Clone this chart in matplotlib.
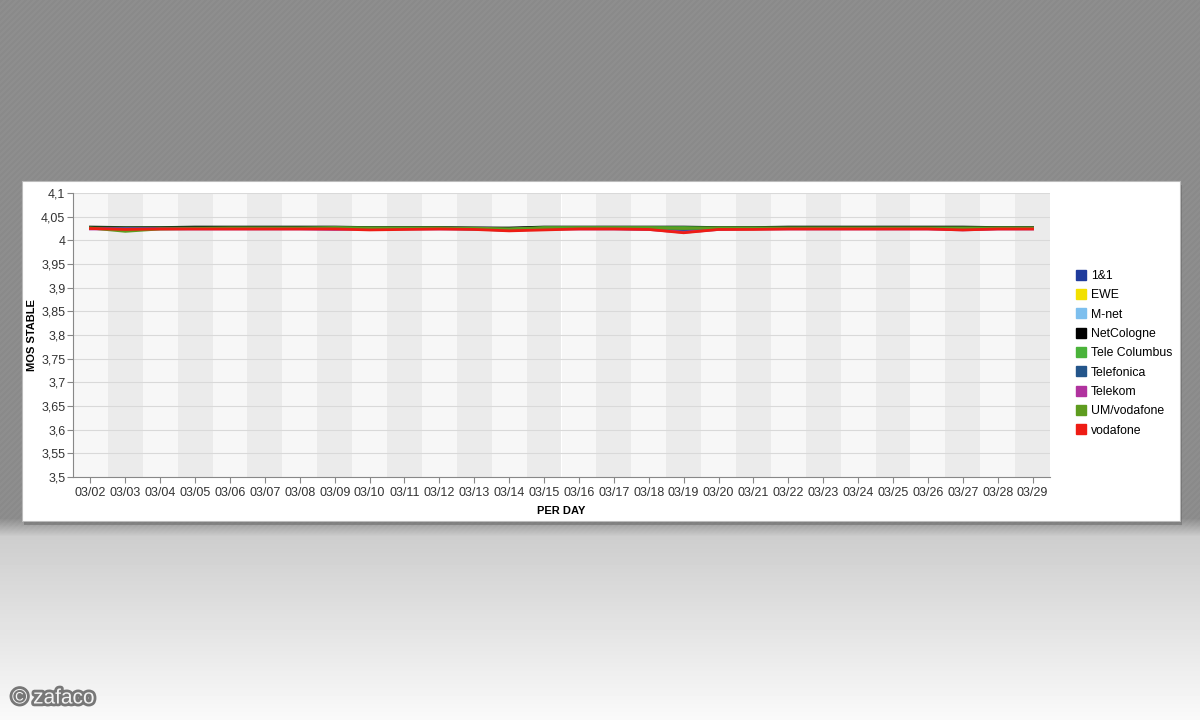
import numpy as np
import matplotlib
matplotlib.use("Agg")
import matplotlib.pyplot as plt
from matplotlib.patches import Rectangle
import matplotlib.patheffects as pe

plt.rcParams['font.family'] = ['Liberation Sans', 'DejaVu Sans']

# data
days = ["03/%02d" % d for d in range(2, 30)]

providers = ["1&1", "EWE", "M-net", "NetCologne", "Tele Columbus",
             "Telefonica", "Telekom", "UM/vodafone", "vodafone"]
colors = ["#1f3b9c", "#f2e000", "#7dbfee", "#000000", "#4ab33a",
          "#24558a", "#b0329e", "#5e9c1f", "#ee1c14"]

mos_1und1 = [4.026, 4.025, 4.026, 4.026, 4.026, 4.026, 4.026, 4.026, 4.026, 4.026,
             4.026, 4.026, 4.025, 4.026, 4.026, 4.026, 4.025, 4.018, 4.025, 4.026,
             4.026, 4.026, 4.026, 4.026, 4.026, 4.026, 4.026, 4.026]
mos_ewe = [4.025, 4.025, 4.025, 4.025, 4.025, 4.025, 4.025, 4.025, 4.025, 4.025,
           4.025, 4.025, 4.024, 4.025, 4.025, 4.025, 4.025, 4.024, 4.025, 4.025,
           4.025, 4.025, 4.025, 4.025, 4.025, 4.025, 4.025, 4.025]
mos_mnet = [4.025, 4.024, 4.025, 4.025, 4.025, 4.025, 4.025, 4.025, 4.025, 4.025,
            4.025, 4.025, 4.023, 4.025, 4.025, 4.025, 4.025, 4.023, 4.025, 4.025,
            4.025, 4.025, 4.025, 4.025, 4.025, 4.025, 4.025, 4.025]
mos_netcologne = [4.028, 4.027, 4.027, 4.028, 4.028, 4.028, 4.028, 4.028, 4.027, 4.027,
                  4.027, 4.026, 4.026, 4.028, 4.028, 4.028, 4.028, 4.028, 4.027, 4.027,
                  4.028, 4.028, 4.028, 4.028, 4.028, 4.028, 4.027, 4.027]
mos_telecolumbus = [4.026, 4.026, 4.026, 4.026, 4.026, 4.026, 4.026, 4.027, 4.026, 4.026,
                    4.026, 4.024, 4.024, 4.027, 4.027, 4.027, 4.027, 4.027, 4.026, 4.026,
                    4.026, 4.026, 4.026, 4.026, 4.026, 4.026, 4.026, 4.026]
mos_telefonica = [4.025, 4.025, 4.025, 4.025, 4.025, 4.025, 4.025, 4.025, 4.025, 4.025,
                  4.025, 4.024, 4.021, 4.024, 4.025, 4.025, 4.024, 4.022, 4.025, 4.025,
                  4.025, 4.025, 4.025, 4.025, 4.025, 4.025, 4.025, 4.025]
mos_telekom = [4.024, 4.024, 4.024, 4.024, 4.024, 4.024, 4.024, 4.023, 4.024, 4.024,
               4.024, 4.024, 4.022, 4.024, 4.024, 4.024, 4.023, 4.017, 4.023, 4.024,
               4.024, 4.024, 4.024, 4.024, 4.024, 4.022, 4.024, 4.024]
mos_umvodafone = [4.026, 4.019, 4.024, 4.025, 4.026, 4.026, 4.026, 4.026, 4.026, 4.026,
                  4.026, 4.026, 4.024, 4.026, 4.026, 4.026, 4.026, 4.025, 4.026, 4.026,
                  4.026, 4.026, 4.026, 4.026, 4.026, 4.026, 4.026, 4.026]
mos_vodafone = [4.025, 4.023, 4.024, 4.024, 4.024, 4.024, 4.024, 4.024, 4.022, 4.023,
                4.024, 4.023, 4.020, 4.022, 4.024, 4.024, 4.023, 4.016, 4.023, 4.023,
                4.024, 4.024, 4.024, 4.024, 4.024, 4.022, 4.024, 4.024]

series = [mos_1und1, mos_ewe, mos_mnet, mos_netcologne, mos_telecolumbus,
          mos_telefonica, mos_telekom, mos_umvodafone, mos_vodafone]

yticks = np.arange(3.5, 4.1001, 0.05)

fig = plt.figure(figsize=(12, 7.2), dpi=100)

#
# background: gray striped top, light gradient bottom
#
H, W = 720, 1200
yy, xx = np.mgrid[0:H, 0:W]
bg = np.full((H, W), 138.0)
bg += 4 * (((xx + yy) // 3) % 2)
t = np.clip((yy - 518) / 18.0, 0, 1)
low = 205 + 45 * np.clip((yy - 535) / 185.0, 0, 1)
bg = bg * (1 - t) + low * t
bgax = fig.add_axes([0, 0, 1, 1], zorder=-10)
bgax.imshow(bg, cmap="gray", vmin=0, vmax=255, aspect="auto",
            extent=[0, 1, 0, 1], origin="upper", interpolation="nearest")
bgax.axis("off")

# white panel with shadow
px0, px1, py0, py1 = 22, 1180, 181, 521
fig.patches.append(Rectangle((px0 / W + 0.002, 1 - (py1 + 4) / H), (px1 - px0) / W,
                             (py1 - py0) / H, transform=fig.transFigure,
                             facecolor="#555555", alpha=0.4, zorder=-5, lw=0))
fig.patches.append(Rectangle((px0 / W, 1 - py1 / H), (px1 - px0) / W,
                             (py1 - py0) / H, transform=fig.transFigure,
                             facecolor="white", edgecolor="#bbbbbb", lw=0.8, zorder=-4))

#
# main chart
#
ax = fig.add_axes([73 / W, 1 - 477 / H, 977 / W, 284 / H])
x = np.arange(len(days))
for i in x:
    ax.axvspan(i - 0.5, i + 0.5, color="#f7f7f7" if i % 2 == 0 else "#ebebeb",
               lw=0, zorder=0)
for yv in yticks:
    ax.axhline(yv, color="#d9d9d9", lw=0.8, zorder=1)

for name, col, vals in zip(providers, colors, series):
    ax.plot(x, vals, color=col, lw=2, label=name, zorder=3)

ax.set_xlim(-0.5, len(days) - 0.5)
ax.set_ylim(3.5, 4.1)
ax.set_xticks(x)
ax.set_xticklabels(days)
ax.set_yticks(yticks)
ax.set_yticklabels([("%g" % round(v, 2)).replace(".", ",") for v in yticks])
ax.tick_params(labelsize=9, colors="#888888", labelcolor="#333333", length=4)
ax.tick_params(axis="y", pad=1.5)
for s in ["top", "right"]:
    ax.spines[s].set_visible(False)
for s in ["left", "bottom"]:
    ax.spines[s].set_color("#888888")

ax.set_ylabel("MOS STABLE", fontsize=8, fontweight="bold")
ax.yaxis.set_label_coords(-36 / 977, 0.5)
ax.set_xlabel("PER DAY", fontsize=8, fontweight="bold", labelpad=5)

handles = [plt.Line2D([], [], marker="s", ls="", color=c, markersize=7)
           for c in colors]
fig.legend(handles, providers, loc="upper left",
           bbox_to_anchor=(1064 / W, 1 - 259 / H), frameon=False,
           fontsize=8.8, handletextpad=0.3, labelspacing=0.6,
           handlelength=1.0)

fig.text(12 / W, 1 - 698 / H, "\u00a9 zafaco", fontsize=15, color="#f4f4f4",
         va="center", ha="left",
         path_effects=[pe.withStroke(linewidth=4, foreground="#777777")])

fig.savefig("out.png", dpi=100)
